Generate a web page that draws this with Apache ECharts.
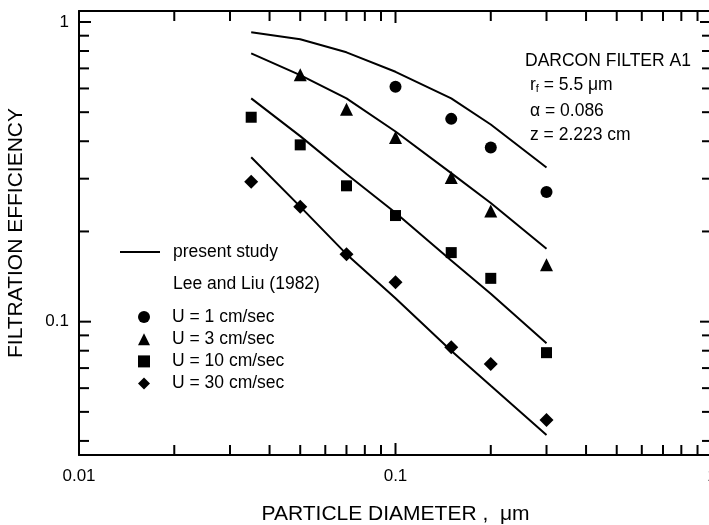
<!DOCTYPE html>
<html>
<head>
<meta charset="utf-8">
<script src="https://cdn.jsdelivr.net/npm/echarts@6/dist/echarts.min.js"></script>
<style>html,body{margin:0;padding:0;background:#fff;}#chart{width:709px;height:525px;}</style>
</head>
<body>
<div id="chart"></div>
<script>
// ---- data ----
const diameters = [0.035, 0.05, 0.07, 0.1, 0.15, 0.2, 0.3];
// present study curves
const study1 = [0.924, 0.876, 0.792, 0.682, 0.556, 0.455, 0.327];
const study3 = [0.786, 0.665, 0.556, 0.431, 0.313, 0.249, 0.175];
const study10 = [0.556, 0.416, 0.311, 0.231, 0.160, 0.124, 0.0847];
const study30 = [0.3535, 0.242, 0.168, 0.1197, 0.080, 0.0611, 0.0419];
// Lee and Liu (1982)
const lee1x = [0.1, 0.15, 0.2, 0.3];
const lee1y = [0.608, 0.475, 0.381, 0.271];
const lee3x = [0.05, 0.07, 0.1, 0.15, 0.2, 0.3];
const lee3y = [0.667, 0.511, 0.412, 0.303, 0.234, 0.155];
const lee10x = [0.035, 0.05, 0.07, 0.1, 0.15, 0.2, 0.3];
const lee10y = [0.481, 0.389, 0.284, 0.226, 0.170, 0.1395, 0.0788];
const lee30x = [0.035, 0.05, 0.07, 0.1, 0.15, 0.2, 0.3];
const lee30y = [0.293, 0.242, 0.168, 0.1353, 0.0821, 0.0722, 0.047];
const seriesNames = ['U = 1 cm/sec', 'U = 3 cm/sec', 'U = 10 cm/sec', 'U = 30 cm/sec'];
// tick values
const xMajorTicks = [0.01, 0.1, 1];
const xMinorTicks = [0.02, 0.03, 0.04, 0.05, 0.06, 0.07, 0.08, 0.09, 0.2, 0.3, 0.4, 0.5, 0.6, 0.7, 0.8, 0.9];
const yMajorTicks = [0.1, 1];
const yMinorTicks = [0.04, 0.05, 0.06, 0.07, 0.08, 0.09, 0.2, 0.3, 0.4, 0.5, 0.6, 0.7, 0.8, 0.9];
const xMin = 0.01, xMax = 1, yMin = 0.0359, yMax = 1.088;

const FONT = "'Liberation Sans', Arial, sans-serif";
const TXT = '17.5px ' + FONT;
const zip = (a, b) => a.map((v, i) => [v, b[i]]);

function isPow10(v) {
  const l = Math.log10(v);
  return Math.abs(l - Math.round(l)) < 1e-6;
}

function tickSeries(values, dir, len) {
  return {
    type: 'custom', xAxisIndex: 0, yAxisIndex: 0, silent: true, clip: false, z: 5,
    data: values.map(v => dir === 'x' ? [v, 0.1] : [0.1, v]),
    renderItem: function (params, api) {
      const cs = params.coordSys;
      const st = { stroke: '#000', lineWidth: 2 };
      if (dir === 'x') {
        const x = api.coord([api.value(0), 0.1])[0];
        return { type: 'group', children: [
          { type: 'line', shape: { x1: x, y1: cs.y + cs.height, x2: x, y2: cs.y + cs.height - len }, style: st },
          { type: 'line', shape: { x1: x, y1: cs.y, x2: x, y2: cs.y + len }, style: st }
        ]};
      } else {
        const y = api.coord([0.1, api.value(1)])[1];
        return { type: 'group', children: [
          { type: 'line', shape: { x1: cs.x, y1: y, x2: cs.x + len, y2: y }, style: st },
          { type: 'line', shape: { x1: cs.x + cs.width, y1: y, x2: cs.x + cs.width - len, y2: y }, style: st }
        ]};
      }
    }
  };
}

function studyLine(vals) {
  return { name: 'present study', type: 'line', symbol: 'none', showSymbol: false, data: zip(diameters, vals),
    lineStyle: { color: '#000', width: 2 }, itemStyle: { color: '#000' }, z: 3, animation: false };
}
function leeSeries(name, xs, ys, symbol, size) {
  return { name: name, type: 'scatter', symbol: symbol, symbolSize: size, data: zip(xs, ys),
    itemStyle: { color: '#000', opacity: 1 }, z: 4, animation: false };
}

const axisCommon = {
  type: 'log', logBase: 10,
  axisLine: { show: true, lineStyle: { color: '#000', width: 2 } },
  axisTick: { show: false }, splitLine: { show: false }, minorTick: { show: false }
};

const chart = echarts.init(document.getElementById('chart'), null, { renderer: 'canvas' });
chart.setOption({
  animation: false,
  backgroundColor: '#fff',
  textStyle: { fontFamily: FONT },
  grid: { left: 79, top: 11, width: 633, height: 444, containLabel: false, outerBoundsMode: 'none' },
  xAxis: [
    Object.assign({}, axisCommon, { position: 'bottom', min: xMin, max: xMax,
      name: 'PARTICLE DIAMETER ,  \u03bcm', nameLocation: 'middle', nameGap: 49,
      nameTextStyle: { fontSize: 21, color: '#000', fontFamily: FONT },
      axisLabel: { show: true, fontSize: 17, color: '#000', margin: 13, fontFamily: FONT,
        formatter: v => isPow10(v) ? String(+v.toPrecision(6)) : '' } }),
    Object.assign({}, axisCommon, { position: 'top', min: xMin, max: xMax, axisLabel: { show: false } })
  ],
  yAxis: [
    Object.assign({}, axisCommon, { position: 'left', min: yMin, max: yMax,
      name: 'FILTRATION EFFICIENCY', nameLocation: 'middle', nameGap: 52,
      nameTextStyle: { fontSize: 21, color: '#000', fontFamily: FONT },
      axisLabel: { show: true, fontSize: 17, color: '#000', margin: 10, fontFamily: FONT,
        showMinLabel: false, showMaxLabel: false,
        formatter: v => isPow10(v) ? String(+v.toPrecision(6)) : '' } }),
    Object.assign({}, axisCommon, { position: 'right', min: yMin, max: yMax, axisLabel: { show: false } })
  ],
  legend: [
    { data: [{ name: 'present study', icon: 'rect' }], left: 120, top: 243, padding: 0,
      itemWidth: 40, itemHeight: 2,
      textStyle: { fontSize: 17.5, lineHeight: 18, color: '#000', fontFamily: FONT, padding: [0, 0, 0, 8] } },
    { data: seriesNames, orient: 'vertical', left: 138, top: 308, padding: 0, itemWidth: 12, itemHeight: 12, itemGap: 4.2,
      textStyle: { fontSize: 17.5, lineHeight: 18, color: '#000', fontFamily: FONT, padding: [0, 0, 0, 17] } }
  ],
  graphic: [
    { type: 'text', left: 173, top: 275, style: { text: 'Lee and Liu (1982)', font: TXT, fill: '#000' } },
    { type: 'text', left: 525, top: 52.5, style: { text: 'DARCON FILTER A1', font: TXT, fill: '#000' } },
    { type: 'text', left: 530, top: 76, style: { text: 'r{sub|f} = 5.5 \u03bcm', font: TXT, fill: '#000',
        rich: { sub: { fontSize: 11, fontFamily: FONT, padding: [8, 0, 0, 0] } } } },
    { type: 'text', left: 530, top: 102.5, style: { text: '\u03b1 = 0.086', font: TXT, fill: '#000' } },
    { type: 'text', left: 530, top: 126, style: { text: 'z = 2.223 cm', font: TXT, fill: '#000' } }
  ],
  series: [
    studyLine(study1), studyLine(study3), studyLine(study10), studyLine(study30),
    leeSeries(seriesNames[0], lee1x, lee1y, 'circle', 12),
    leeSeries(seriesNames[1], lee3x, lee3y, 'triangle', 13),
    leeSeries(seriesNames[2], lee10x, lee10y, 'rect', 11),
    leeSeries(seriesNames[3], lee30x, lee30y, 'diamond', 14),
    tickSeries(xMajorTicks, 'x', 12), tickSeries(xMinorTicks, 'x', 10),
    tickSeries(yMajorTicks, 'y', 12), tickSeries(yMinorTicks, 'y', 10)
  ]
});
</script>
</body>
</html>
